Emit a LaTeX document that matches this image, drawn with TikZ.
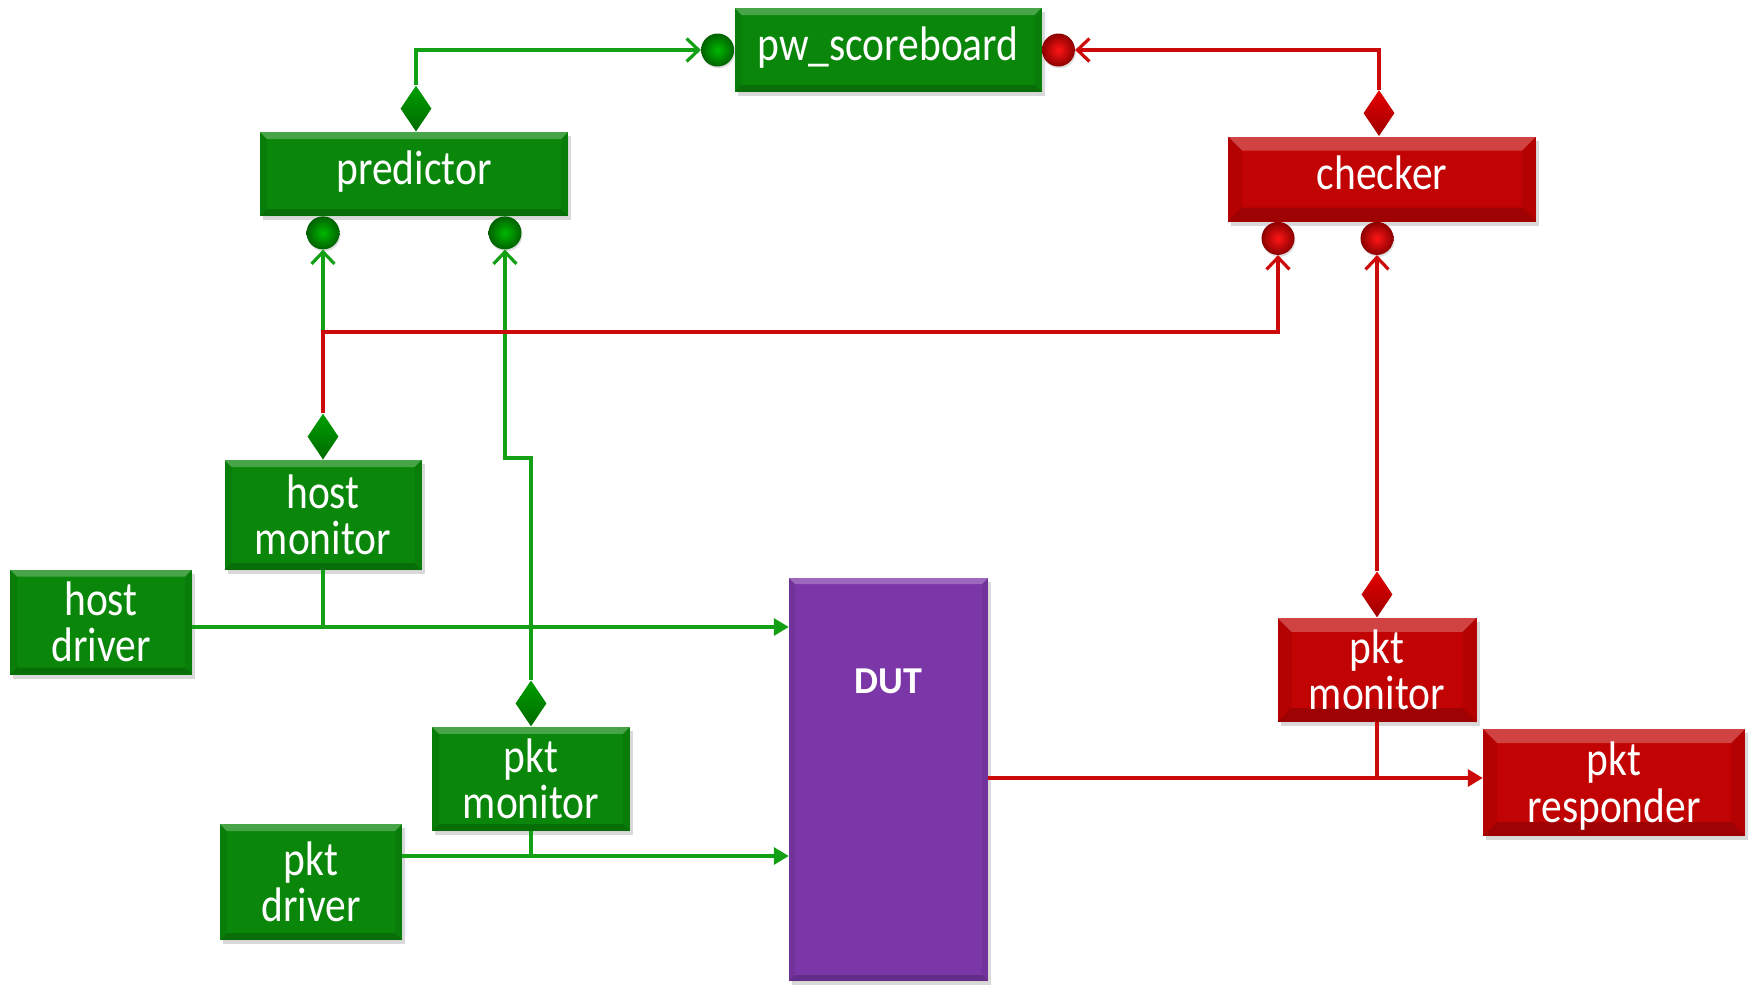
\documentclass[tikz,border=0pt]{standalone}
\usepackage{fontspec}
\usepackage{graphicx}
\setmainfont{Carlito}
\usetikzlibrary{arrows.meta,shapes.geometric,shadows}

\definecolor{gfill}{HTML}{0A870A}
\definecolor{gwirec}{HTML}{14A014}
\definecolor{rfill}{HTML}{C20303}
\definecolor{rwirec}{HTML}{CC0A0A}
\definecolor{pfill}{HTML}{7B36A8}

% box labels, slightly stretched vertically; the optional argument adds room above
% so that the text sits lower in its box
\newcommand\lbl[2][0pt]{\raisebox{0pt}[\dimexpr\height+#1\relax][\depth]{\scalebox{1}[1.17]{\begin{tabular}{@{}c@{}}#2\end{tabular}}}}

\tikzset{
  bevel/.style={path picture={
    \coordinate (bvNW) at (path picture bounding box.north west);
    \coordinate (bvNE) at (path picture bounding box.north east);
    \coordinate (bvSE) at (path picture bounding box.south east);
    \coordinate (bvSW) at (path picture bounding box.south west);
    \fill[white,opacity=0.25] (bvNW) -- (bvNE) -- ([shift={(-#1,-#1)}]bvNE) -- ([shift={(#1,-#1)}]bvNW) -- cycle;
    \fill[black,opacity=0.18] (bvSW) -- (bvSE) -- ([shift={(-#1,#1)}]bvSE) -- ([shift={(#1,#1)}]bvSW) -- cycle;
    \fill[black,opacity=0.07] (bvNW) -- ([shift={(#1,-#1)}]bvNW) -- ([shift={(#1,#1)}]bvSW) -- (bvSW) -- cycle;
    \fill[black,opacity=0.07] (bvNE) -- ([shift={(-#1,-#1)}]bvNE) -- ([shift={(-#1,#1)}]bvSE) -- (bvSE) -- cycle;
  }},
  blockbase/.style={rectangle, inner sep=0pt, text=white, align=center,
    font=\fontsize{41.5}{36}\selectfont,
    drop shadow={shadow xshift=3pt, shadow yshift=-4pt, opacity=0.3}},
  gblock/.style={blockbase, fill=gfill, bevel=7pt},
  rblock/.style={blockbase, fill=rfill, bevel=14pt},
  dutblock/.style={blockbase, fill=pfill, bevel=6pt,
    font=\fontsize{38}{44}\selectfont\bfseries},
  gball/.style={circle, minimum size=33pt, inner sep=0pt,
    inner color=green!72!black, outer color=green!38!black,
    drop shadow={shadow xshift=1pt, shadow yshift=-2pt, opacity=0.25}},
  rball/.style={circle, minimum size=33pt, inner sep=0pt,
    inner color=red!92!white, outer color=red!55!black,
    drop shadow={shadow xshift=1pt, shadow yshift=-2pt, opacity=0.25}},
  gdia/.style={diamond, aspect=0.66, minimum width=31pt, minimum height=46pt, inner sep=0pt,
    top color=green!62!black, bottom color=green!42!black},
  rdia/.style={diamond, aspect=0.66, minimum width=31pt, minimum height=46pt, inner sep=0pt,
    top color=red!90!black, bottom color=red!62!black},
  gwire/.style={draw=gwirec, line width=3.2pt},
  rwire/.style={draw=rwirec, line width=3.2pt},
  openhead/.style={-{Straight Barb[length=12pt,width=23pt]}},
  solidhead/.style={-{Triangle[length=15pt,width=17pt]}},
}

\begin{document}
\begin{tikzpicture}[x=1pt,y=-1pt]
\useasboundingbox (0,0) rectangle (1752,986);

% blocks
\node[gblock, minimum width=307pt, minimum height=84pt] (sb) at (888,50) {\lbl{pw\_scoreboard}};
\node[gblock, minimum width=308pt, minimum height=84pt] (pred) at (414,174) {\lbl{predictor}};
\node[rblock, minimum width=308pt, minimum height=85pt] (chk) at (1382,179) {\lbl{checker}};
\node[gblock, minimum width=197pt, minimum height=110pt] (hmon) at (323,515) {\lbl[12pt]{host\\monitor}};
\node[gblock, minimum width=182pt, minimum height=105pt] (hdrv) at (101,622) {\lbl[12pt]{host\\driver}};
\node[gblock, minimum width=198pt, minimum height=101pt] (pmon) at (531,779) {\lbl[12pt]{pkt\\monitor}};
\node[gblock, minimum width=182pt, minimum height=116pt] (pdrv) at (311,882) {\lbl[12pt]{pkt\\driver}};
\node[dutblock, minimum width=199pt, minimum height=403pt, text depth=197pt] (dut) at (888.5,779.5) {DUT};
\node[rblock, minimum width=199pt, minimum height=104pt] (rmon) at (1377,670) {\lbl[12pt]{pkt\\monitor}};
\node[rblock, minimum width=262pt, minimum height=107pt] (resp) at (1614,782.5) {\lbl[12pt]{pkt\\responder}};

% analysis ports (diamonds)
\node[gdia, anchor=south] (predD) at (pred.north -| 416,0) {};
\node[rdia, anchor=south] (chkD) at (chk.north -| 1379,0) {};
\node[gdia, anchor=south] (hmonD) at (hmon.north) {};
\node[gdia, anchor=south] (pmonD) at (pmon.north) {};
\node[rdia, anchor=south] (rmonD) at (rmon.north) {};

% analysis exports (balls)
\node[gball, anchor=east] (sbL) at (sb.west) {};
\node[rball, anchor=west] (sbR) at (sb.east) {};
\node[gball, anchor=north] (predA) at (pred.south -| 323,0) {};
\node[gball, anchor=north] (predB) at (pred.south -| 505,0) {};
\node[rball, anchor=north] (chkA) at (chk.south -| 1278,0) {};
\node[rball, anchor=north] (chkB) at (chk.south -| 1377,0) {};

% analysis connections
\draw[gwire, openhead] (predD.north) |- (sbL.west);
\draw[rwire, openhead] (chkD.north) |- (sbR.east);
\draw[gwire, openhead] (hmonD.north) -- (predA.south);
\draw[gwire, openhead] (pmonD.north) -- (pmonD.north |- 0,458) -| (predB.south);
\draw[rwire, openhead] (hmonD.north) -- (hmonD.north |- 0,332) -| (chkA.south);
\draw[rwire, openhead] (rmonD.north) -- (chkB.south);

% signal connections
\draw[gwire, solidhead] (hdrv.east |- 0,627) -- (dut.west |- 0,627);
\draw[gwire] (hmon.south) -- (hmon.south |- 0,627);
\draw[gwire, solidhead] (pdrv.east |- 0,856) -- (dut.west |- 0,856);
\draw[gwire] (pmon.south) -- (pmon.south |- 0,856);
\draw[rwire, solidhead] (dut.east |- 0,778) -- (resp.west |- 0,778);
\draw[rwire] (rmon.south) -- (rmon.south |- 0,778);
\end{tikzpicture}
\end{document}
